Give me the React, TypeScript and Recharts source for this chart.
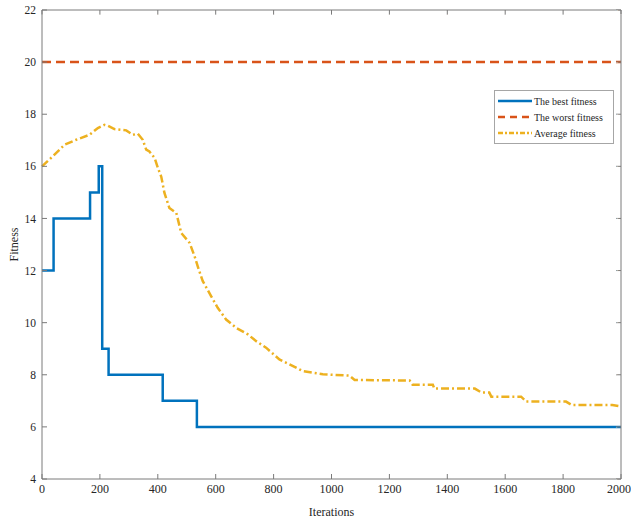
import React from 'react';
import { LineChart, Line, XAxis, YAxis } from 'recharts';

// best fitness (step changes)
const bestIter = [0, 40, 166, 196, 208, 230, 417, 535, 2000];
const bestValue = [12, 14, 15, 16, 9, 8, 7, 6, 6];

// worst fitness (constant)
const worstIter = [0, 2000];
const worstValue = [20, 20];

// average fitness
const avgIter = [
  0, 37, 78, 118, 164, 193, 216, 227, 250, 291, 314, 331, 348, 360, 371, 389, 400,
  412, 423, 440, 464, 481, 510, 527, 538, 555, 584, 607, 636, 671, 711, 740, 774,
  820, 855, 901, 970, 1062, 1080, 1270, 1280, 1350, 1355, 1495, 1518, 1545, 1552,
  1655, 1673, 1810, 1830, 1970, 2000,
];
const avgValue = [
  16.0, 16.38, 16.83, 17.02, 17.21, 17.47, 17.59, 17.56, 17.43, 17.38, 17.21, 17.25,
  17.02, 16.64, 16.57, 16.32, 15.95, 15.6, 14.98, 14.4, 14.21, 13.44, 13.06, 12.55,
  12.16, 11.6, 11.02, 10.57, 10.12, 9.8, 9.55, 9.29, 9.04, 8.59, 8.4, 8.14, 8.02,
  7.97, 7.8, 7.78, 7.62, 7.62, 7.47, 7.47, 7.32, 7.32, 7.16, 7.16, 6.97, 6.97, 6.84,
  6.84, 6.78,
];

const xTicks = [0, 200, 400, 600, 800, 1000, 1200, 1400, 1600, 1800, 2000];
const yTicks = [4, 6, 8, 10, 12, 14, 16, 18, 20, 22];

const legendItems = [
  { name: 'The best fitness', color: '#0072BD', dash: undefined },
  { name: 'The worst fitness', color: '#D95319', dash: '7 5' },
  { name: 'Average fitness', color: '#EDB120', dash: '5 2 2 2' },
];

const toPoints = (xs: number[], ys: number[]) => xs.map((x, i) => ({ iter: x, value: ys[i] }));

const bestData = toPoints(bestIter, bestValue);
const worstData = toPoints(worstIter, worstValue);
const avgData = toPoints(avgIter, avgValue);

const FONT = '"Liberation Serif", "Times New Roman", serif';
const AXIS = '#7a7a7a';
const TEXT = '#262626';

function LegendBox() {
  return (
    <div
      style={{
        position: 'absolute',
        left: 494,
        top: 90,
        width: 112,
        border: '1px solid #a6a6a6',
        background: '#fff',
        padding: '2px 3px',
        fontFamily: FONT,
        fontSize: 10,
        color: TEXT,
      }}
    >
      {legendItems.map((item) => (
        <div key={item.name} style={{ display: 'flex', alignItems: 'center', height: 16 }}>
          <svg width={34} height={6} style={{ marginRight: 2 }}>
            <line
              x1={0}
              y1={3}
              x2={34}
              y2={3}
              stroke={item.color}
              strokeWidth={2.5}
              strokeDasharray={item.dash}
            />
          </svg>
          <span style={{ whiteSpace: 'nowrap' }}>{item.name}</span>
        </div>
      ))}
    </div>
  );
}

function YLabel({ viewBox }: any) {
  const cx = 14;
  const cy = viewBox.y + viewBox.height / 2;
  return (
    <text
      x={cx}
      y={cy}
      transform={`rotate(-90 ${cx} ${cy})`}
      textAnchor="middle"
      dominantBaseline="central"
      fontFamily={FONT}
      fontSize={12}
      fill={TEXT}
    >
      Fitness
    </text>
  );
}

export default function App() {
  return (
    <div style={{ position: 'absolute', left: 0, top: 0, width: 631, height: 521, background: '#fff' }}>
      <LineChart width={631} height={521} margin={{ top: 0, right: 0, left: 0, bottom: 0 }}>
        <XAxis
          xAxisId="bottom"
          dataKey="iter"
          type="number"
          domain={[0, 2000]}
          ticks={xTicks}
          height={42}
          tickSize={-5}
          tickMargin={10}
          stroke={AXIS}
          tick={{ fill: TEXT, fontSize: 12, fontFamily: FONT }}
          label={{
            value: 'Iterations',
            position: 'insideBottom',
            offset: 5,
            fill: TEXT,
            fontSize: 12,
            fontFamily: FONT,
          }}
        />
        {/* top side of the box: same scale, tick marks only (labels white) */}
        <XAxis
          xAxisId="top"
          orientation="top"
          dataKey="iter"
          type="number"
          domain={[0, 2000]}
          ticks={xTicks}
          height={10}
          tickSize={-5}
          tickMargin={0}
          stroke={AXIS}
          tick={{ fill: '#ffffff', fontSize: 2 }}
        />
        <YAxis
          yAxisId="left"
          type="number"
          domain={[4, 22]}
          ticks={yTicks}
          width={42}
          tickSize={-5}
          tickMargin={11}
          stroke={AXIS}
          tick={{ fill: TEXT, fontSize: 11.5, fontFamily: FONT }}
          label={{ content: (props: any) => <YLabel {...props} /> }}
        />
        {/* right side of the box */}
        <YAxis
          yAxisId="right"
          orientation="right"
          type="number"
          domain={[4, 22]}
          ticks={yTicks}
          width={10}
          tickSize={-5}
          tickMargin={0}
          stroke={AXIS}
          tick={{ fill: '#ffffff', fontSize: 2 }}
        />
        <Line
          xAxisId="bottom"
          yAxisId="left"
          data={bestData}
          dataKey="value"
          name="The best fitness"
          type="stepAfter"
          stroke="#0072BD"
          strokeWidth={2.5}
          dot={false}
          isAnimationActive={false}
        />
        <Line
          xAxisId="top"
          yAxisId="right"
          data={worstData}
          dataKey="value"
          name="The worst fitness"
          type="linear"
          stroke="#D95319"
          strokeWidth={2.5}
          strokeDasharray="9 5"
          dot={false}
          isAnimationActive={false}
        />
        <Line
          xAxisId="bottom"
          yAxisId="left"
          data={avgData}
          dataKey="value"
          name="Average fitness"
          type="linear"
          stroke="#EDB120"
          strokeWidth={2.5}
          strokeDasharray="8 3 2 3"
          dot={false}
          isAnimationActive={false}
        />
      </LineChart>
      <LegendBox />
    </div>
  );
}
